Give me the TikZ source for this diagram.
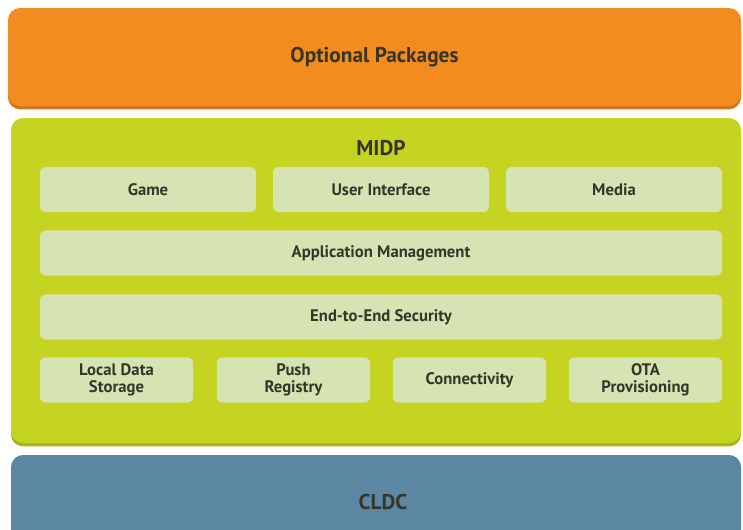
\documentclass[tikz,border=0pt]{standalone}
\usepackage{fontspec}
\setmainfont{PT Sans}
\usetikzlibrary{shadows}

\definecolor{optfill}{HTML}{F28C1E}
\definecolor{optshade}{HTML}{D3741A}
\definecolor{midpfill}{HTML}{C5D420}
\definecolor{midpshade}{HTML}{A7B417}
\definecolor{partfill}{HTML}{D6E3B2}
\definecolor{cldcfill}{HTML}{5B87A2}
\definecolor{labeltext}{HTML}{35352A}

\begin{document}
\begin{tikzpicture}[x=0.75pt,y=-0.75pt,
	layer/.style={rounded corners=9pt, inner sep=0pt, text=labeltext,
		font=\fontsize{16}{18}\selectfont\bfseries},
	part/.style={fill=partfill, rounded corners=4.5pt, inner sep=0pt,
		minimum height=34pt, align=center, text=labeltext,
		font=\fontsize{12.5}{13}\selectfont\bfseries},
	wide/.style={part, minimum width=511.5pt},
	third/.style={part, minimum width=162pt},
	quarter/.style={part, minimum width=115pt}]
\clip (0,0) rectangle (743,529);
\fill[white] (0,0) rectangle (743,529);

% the three layers
\node[layer, fill=optfill, minimum width=549.75pt, minimum height=73.5pt,
	drop shadow={shadow xshift=0pt, shadow yshift=-2.5pt, fill=optshade, opacity=1}]
	(optional) at (374.5,57) {Optional Packages};
\node[layer, fill=midpfill, minimum width=547.5pt, minimum height=243.75pt,
	drop shadow={shadow xshift=0pt, shadow yshift=-2.5pt, fill=midpshade, opacity=1}]
	(midp) at (376,280.5) {};
\node[layer, fill=cldcfill, minimum width=547.5pt, minimum height=70.5pt]
	(cldc) at (376,502) {};
\node[font=\fontsize{16}{18}\selectfont\bfseries, text=labeltext] (midptitle) at (381,148) {MIDP};
\node[font=\fontsize{16}{18}\selectfont\bfseries, text=labeltext] (cldctitle) at (383,502) {CLDC};

% MIDP parts
\node[third] (game) at (148,189.5) {Game};
\node[third] (ui) at (381,189.5) {User Interface};
\node[third] (media) at (614,189.5) {Media};
\node[wide] (appmgmt) at (381,253) {Application Management};
\node[wide] (security) at (381,317) {End-to-End Security};
\node[quarter] (storage) at (116.5,380) {Local Data\\Storage};
\node[quarter] (push) at (293.5,380) {Push\\Registry};
\node[quarter] (connect) at (469.5,380) {Connectivity};
\node[quarter] (ota) at (645.5,380) {OTA\\Provisioning};
\end{tikzpicture}
\end{document}
